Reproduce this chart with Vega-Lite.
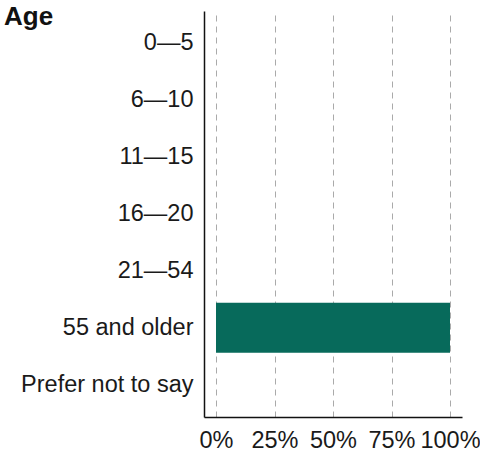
{
  "$schema": "https://vega.github.io/schema/vega-lite/v6.json",
  "autosize": {"type": "none"},
  "padding": {"left": 204, "top": 11, "right": 18, "bottom": 35},
  "width": 258,
  "height": 406,
  "title": {
    "text": "Age",
    "anchor": "start",
    "frame": "group",
    "fontSize": 26,
    "fontWeight": "bold",
    "font": "Liberation Sans",
    "color": "#111111",
    "baseline": "alphabetic",
    "offset": -30,
    "dx": -200,
    "dy": 10
  },
  "data": {
    "values": [
      {"age": "0—5", "share": 0},
      {"age": "6—10", "share": 0},
      {"age": "11—15", "share": 0},
      {"age": "16—20", "share": 0},
      {"age": "21—54", "share": 0},
      {"age": "55 and older", "share": 1},
      {"age": "Prefer not to say", "share": 0}
    ]
  },
  "mark": {"type": "bar", "color": "#076a5b"},
  "encoding": {
    "y": {
      "field": "age",
      "type": "nominal",
      "sort": null,
      "scale": {"paddingInner": 0.12, "paddingOuter": 0.13},
      "axis": {
        "title": null,
        "ticks": false,
        "tickSize": 0,
        "labelPadding": 11,
        "labelFontSize": 23.5,
        "labelFont": "Liberation Sans",
        "labelColor": "#1a1a1a",
        "domainColor": "#111111",
        "domainWidth": 1.5,
        "grid": false
      }
    },
    "x": {
      "field": "share",
      "type": "quantitative",
      "scale": {"domain": [0, 1], "nice": false, "padding": 12},
      "axis": {
        "title": null,
        "values": [0, 0.25, 0.5, 0.75, 1],
        "format": ".0%",
        "ticks": false,
        "tickSize": 0,
        "labelPadding": 11,
        "labelFlush": false,
        "labelFontSize": 23.5,
        "labelFont": "Liberation Sans",
        "labelColor": "#1a1a1a",
        "domainColor": "#111111",
        "domainWidth": 1.5,
        "grid": true,
        "gridDash": [6, 5],
        "gridColor": "#aaaaaa",
        "gridWidth": 1
      }
    }
  },
  "config": {"view": {"stroke": null}}
}
